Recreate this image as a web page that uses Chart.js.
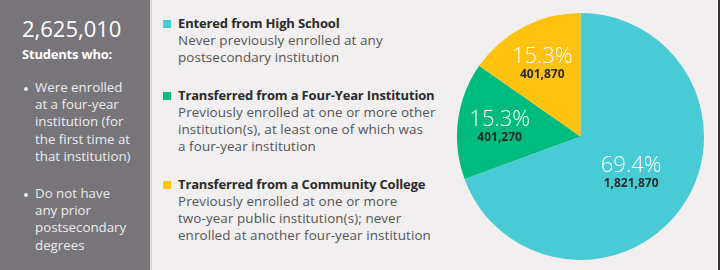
<!DOCTYPE html>
<html>
<head>
<meta charset="utf-8">
<script src="https://cdn.jsdelivr.net/npm/chart.js@4/dist/chart.umd.min.js"></script>
<style>
  html, body { margin: 0; padding: 0; }
  body { width: 720px; height: 270px; background: #f1eff0; position: relative; overflow: hidden;
         font-family: 'Open Sans', 'Lato', sans-serif; }
  #side { position: absolute; left: 0; top: 0; width: 150px; height: 270px; background: #77747a;
          border-right: 2px solid #d9d7d9; color: #fff; }
  #total { position: absolute; left: 22px; top: 13px; font-size: 22px; font-weight: 400; line-height: 30px; }
  #who { position: absolute; left: 22px; top: 45px; font-size: 13px; font-weight: 700; line-height: 18px; letter-spacing: -0.2px; }
  #side ul { position: absolute; left: 22px; top: 79px; margin: 0; padding: 0; list-style: none;
             font-size: 13.3px; line-height: 17.2px; color: #ececec; }
  #side li { position: relative; padding-left: 13px; margin-bottom: 20px; }
  #side li::before { content: ''; position: absolute; left: 2px; top: 8px; width: 4px; height: 4px;
                     border-radius: 50%; background: #ececec; }
  #legend { position: absolute; left: 163px; top: 15px; }
  .item { position: relative; padding-left: 15px; margin-bottom: 21px; font-size: 13.4px; line-height: 17px;
          letter-spacing: 0.1px; color: #555; }
  .item b { color: #2a2a2a; font-weight: 700; display: block; font-size: 13px; letter-spacing: -0.15px; }
  .sw { position: absolute; left: 0; top: 5px; width: 8px; height: 8px; }
  #pieBox { position: absolute; left: 457px; top: 13px; width: 247px; height: 247px; }
  #edge { position: absolute; right: 0; top: 0; width: 2px; height: 270px; background: #3a3128; border-left: 1px solid #fff; }
</style>
</head>
<body>
<div id="side">
  <div id="total"></div>
  <div id="who">Students who:</div>
  <ul>
    <li>Were enrolled<br>at a four-year<br>institution (for<br>the first time at<br>that institution)</li>
    <li>Do not have<br>any prior<br>postsecondary<br>degrees</li>
  </ul>
</div>
<div id="legend"></div>
<div id="pieBox"><canvas id="pie"></canvas></div>
<div id="edge"></div>
<script>
// Pie data, drawn clockwise from 12 o'clock
const CATEGORIES = ['Entered from High School', 'Transferred from a Four-Year Institution', 'Transferred from a Community College'];
const DESCRIPTIONS = [
  ['Never previously enrolled at any', 'postsecondary institution'],
  ['Previously enrolled at one or more other', 'institution(s), at least one of which was', 'a four-year institution'],
  ['Previously enrolled at one or more', 'two-year public institution(s); never', 'enrolled at another four-year institution'],
];
const STUDENTS = [1821870, 401270, 401870];
const PERCENTS = ['69.4%', '15.3%', '15.3%'];
const COLORS = ['#49cbd6', '#00bb7e', '#ffc20e'];
const TOTAL = 2625010;

const fmt = n => n.toLocaleString('en-US');

document.getElementById('total').textContent = fmt(TOTAL);

// Legend with descriptions
const legend = document.getElementById('legend');
CATEGORIES.forEach((name, i) => {
  const div = document.createElement('div');
  div.className = 'item';
  div.innerHTML = '<span class="sw" style="background:' + COLORS[i] + '"></span><b>' + name + '</b>' +
    DESCRIPTIONS[i].join('<br>');
  legend.appendChild(div);
});

// label distance from centre, as fraction of radius
const LABEL_R = [0.5, 0.66, 0.67];

const sliceLabels = {
  id: 'sliceLabels',
  afterDatasetsDraw(chart) {
    const ctx = chart.ctx;
    const meta = chart.getDatasetMeta(0);
    meta.data.forEach((arc, i) => {
      const mid = (arc.startAngle + arc.endAngle) / 2;
      const r = arc.outerRadius * LABEL_R[i];
      const x = arc.x + Math.cos(mid) * r;
      const y = arc.y + Math.sin(mid) * r;
      ctx.save();
      ctx.textAlign = 'center';
      ctx.textBaseline = 'alphabetic';
      ctx.fillStyle = '#fff';
      ctx.font = '300 22px "Open Sans", sans-serif';
      ctx.fillText(PERCENTS[i], x, y);
      ctx.fillStyle = '#2b2b2b';
      ctx.font = '700 12px "Open Sans", sans-serif';
      ctx.fillText(fmt(STUDENTS[i]), x, y + 15);
      ctx.restore();
    });
  }
};

new Chart(document.getElementById('pie'), {
  type: 'pie',
  data: {
    labels: CATEGORIES,
    datasets: [{ data: STUDENTS, backgroundColor: COLORS, borderWidth: 0 }],
  },
  options: {
    responsive: true,
    maintainAspectRatio: false,
    animation: false,
    layout: { padding: 0 },
    plugins: { legend: { display: false }, tooltip: { enabled: false } },
  },
  plugins: [sliceLabels],
});
</script>
</body>
</html>
